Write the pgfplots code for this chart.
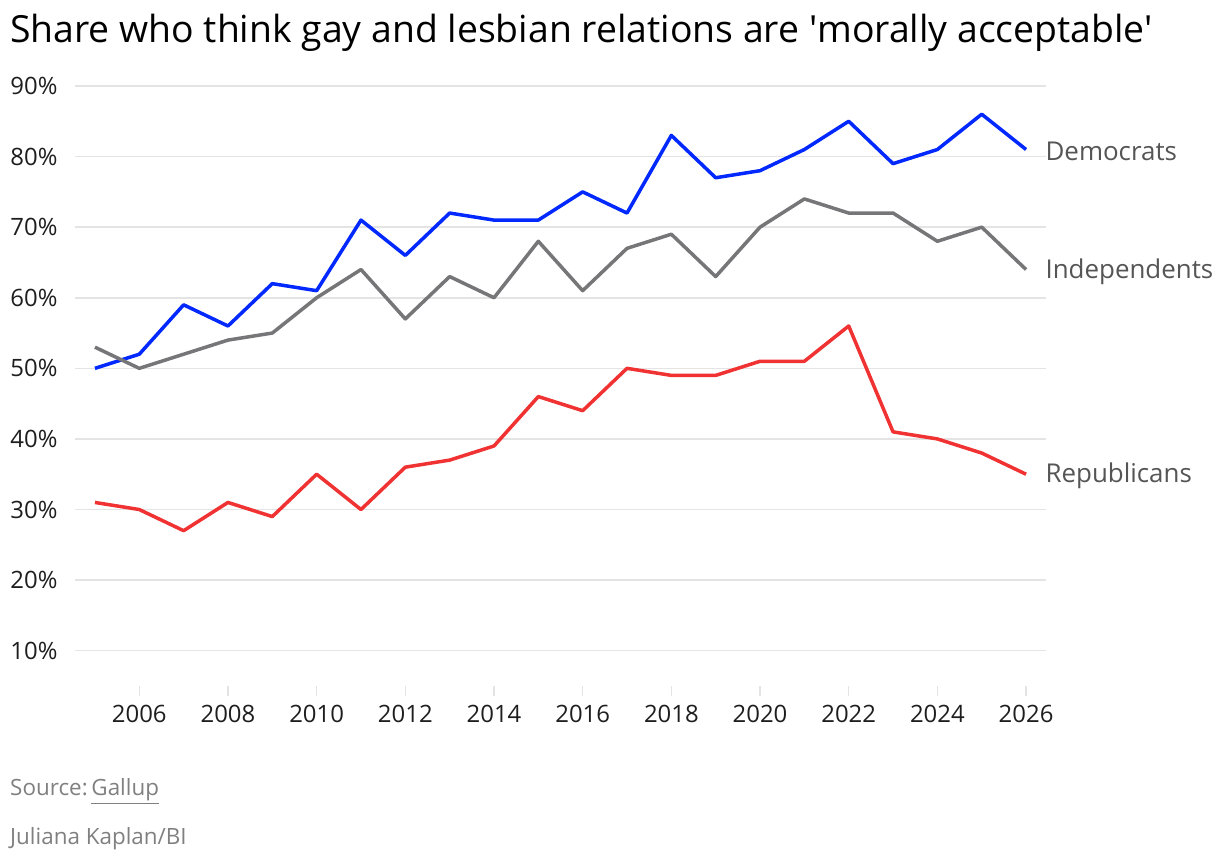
\documentclass[border=0pt]{standalone}
\usepackage{fontspec}
\setmainfont{Open Sans}
\usepackage{pgfplots}
\pgfplotsset{compat=1.18}

\definecolor{dem}{RGB}{0,40,255}
\definecolor{ind}{RGB}{118,118,120}
\definecolor{rep}{RGB}{240,50,50}
\definecolor{gridc}{RGB}{228,228,228}
\definecolor{labc}{RGB}{85,85,85}
\definecolor{srcc}{RGB}{128,128,128}
\definecolor{tickc}{RGB}{30,30,30}

\begin{document}
\begin{tikzpicture}[x=1bp,y=1bp]
\useasboundingbox (0,0) rectangle (1220,860);
\node[anchor=base west, inner sep=0, font=\fontsize{37.5}{42}\selectfont, text=black]
  at (10,817) {Share who think gay and lesbian relations are \textquotesingle morally acceptable\textquotesingle};
\begin{axis}[
  at={(75bp,174bp)}, anchor=south west,
  scale only axis, width=971bp, height=600bp,
  xmin=2004.55, xmax=2026.45, ymin=5, ymax=90,
  axis line style={draw=none},
  clip=false,
  xtick={2006,2008,...,2026},
  ytick={10,20,...,90},
  xtick pos=lower,
  tick align=outside,
  major tick length=10bp,
  xtick style={draw=gridc, line width=1.5bp},
  ytick style={draw=none},
  ymajorgrids,
  grid style={draw=gridc, line width=1.5bp},
  /pgf/number format/.cd, 1000 sep={}, assume math mode=true,
  /pgfplots/.cd,
  yticklabel={\pgfmathprintnumber{\tick}\%},
  ticklabel style={font=\fontsize{24}{28}\selectfont, text=tickc},
  xticklabel style={yshift=-6bp},
  yticklabel style={xshift=-4bp},
]
\addplot[dem, line width=3.5bp, line join=round] coordinates {
 (2005,50) (2006,52) (2007,59) (2008,56) (2009,62) (2010,61) (2011,71)
 (2012,66) (2013,72) (2014,71) (2015,71) (2016,75) (2017,72) (2018,83)
 (2019,77) (2020,78) (2021,81) (2022,85) (2023,79) (2024,81) (2025,86) (2026,81)};
\addplot[ind, line width=3.5bp, line join=round] coordinates {
 (2005,53) (2006,50) (2007,52) (2008,54) (2009,55) (2010,60) (2011,64)
 (2012,57) (2013,63) (2014,60) (2015,68) (2016,61) (2017,67) (2018,69)
 (2019,63) (2020,70) (2021,74) (2022,72) (2023,72) (2024,68) (2025,70) (2026,64)};
\addplot[rep, line width=3.5bp, line join=round] coordinates {
 (2005,31) (2006,30) (2007,27) (2008,31) (2009,29) (2010,35) (2011,30)
 (2012,36) (2013,37) (2014,39) (2015,46) (2016,44) (2017,50) (2018,49)
 (2019,49) (2020,51) (2021,51) (2022,56) (2023,41) (2024,40) (2025,38) (2026,35)};
\node[anchor=west, xshift=16bp, yshift=-2bp, text=labc, font=\fontsize{26}{30}\selectfont] at (axis cs:2026,81) {Democrats};
\node[anchor=west, xshift=16bp, yshift=-2bp, text=labc, font=\fontsize{26}{30}\selectfont] at (axis cs:2026,64) {Independents};
\node[anchor=west, xshift=16bp, yshift=-2bp, text=labc, font=\fontsize{26}{30}\selectfont] at (axis cs:2026,35) {Republicans};
\end{axis}
\node[anchor=base west, inner sep=0, font=\fontsize{22.5}{26}\selectfont, text=srcc]
  at (10,64) {Source:\,\underline{Gallup}};
\node[anchor=base west, inner sep=0, font=\fontsize{22.5}{26}\selectfont, text=srcc]
  at (10,15) {Juliana Kaplan/BI};
\end{tikzpicture}
\end{document}
